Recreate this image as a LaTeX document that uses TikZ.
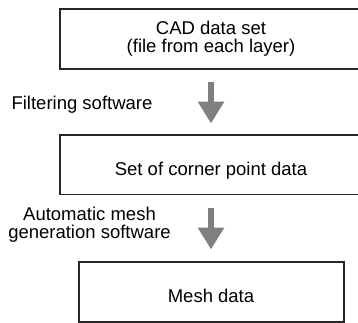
\documentclass[tikz,border=0pt]{standalone}
\usepackage{fontspec}
\setmainfont{Liberation Sans}
\usetikzlibrary{arrows.meta}
\definecolor{boxline}{HTML}{262626}
\definecolor{arrowgrey}{HTML}{808080}
\begin{document}
\begin{tikzpicture}[x=1pt,y=-1pt,
  box/.style={draw=boxline, line width=1.2pt, inner sep=0pt},
  txt/.style={inner sep=0pt, align=center, anchor=base, font=\fontsize{18.5}{18}\selectfont},
  blockarrow/.style={draw=arrowgrey, line width=6pt,
    -{Triangle[width=25pt,length=21.7pt,fill=arrowgrey]}}]
\useasboundingbox (0,0) rectangle (358,323);
\node[box, minimum width=302pt, minimum height=60pt] (b1) at (211,39) {};
\node[box, minimum width=302pt, minimum height=59.3pt] (b2) at (211,164.7) {};
\node[box, minimum width=265pt, minimum height=60pt] (b3) at (211.5,292) {};
\node[txt] (t1) at (211,53) {CAD data set\\(file from each layer)};
\node[txt] (t2) at (211,175) {Set of corner point data};
\node[txt] (t3) at (211,302) {Mesh data};
\draw[blockarrow] ([yshift=-12.7pt]b1.south) -- ([yshift=11pt]b2.north);
\draw[blockarrow] ([yshift=-13.4pt]b2.south) -- ([yshift=12pt]b2.south |- b3.north);
\node[txt] (l1) at (82,110) {Filtering software};
\node[txt] (l2) at (89.5,238) {Automatic mesh\\generation software};
\end{tikzpicture}
\end{document}
